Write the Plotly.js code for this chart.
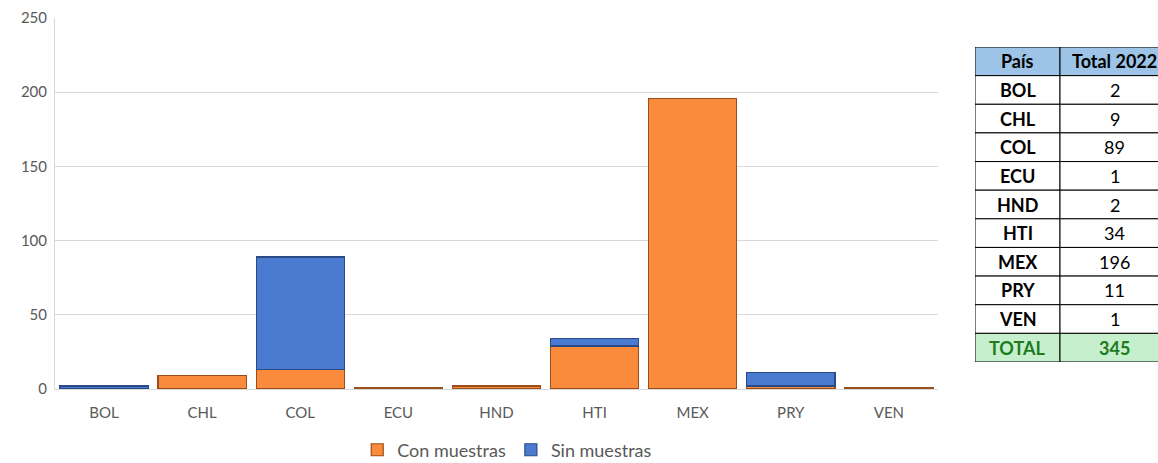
<!DOCTYPE html>
<html><head><meta charset="utf-8">
<script src="https://cdn.plot.ly/plotly-3.0.1.min.js"></script>
<style>html,body{margin:0;padding:0;background:#fff}#chart{width:1158px;height:463px}</style>
</head><body><div id="chart"></div>
<script>
const countries = ["BOL","CHL","COL","ECU","HND","HTI","MEX","PRY","VEN"];
const conMuestras = [0, 9, 13, 1, 2, 29, 196, 2, 1];
const sinMuestras = [2, 0, 76, 0, 0, 5, 0, 9, 0];
const tableCountries = ["BOL","CHL","COL","ECU","HND","HTI","MEX","PRY","VEN","TOTAL"];
const tableTotals = ["2","9","89","1","2","34","196","11","1","345"];
const tableHeader = ["País","Total 2022"];

const fontFam = "Lato, 'Open Sans', 'Liberation Sans', sans-serif";
const noZero = a => a.map(v => v === 0 ? null : v);

const traces = [
  {type:"bar", name:"Con muestras", x:countries, y:noZero(conMuestras),
   marker:{color:"#FA8A3C", line:{color:"#9A4E1C", width:1.2}}},
  {type:"bar", name:"Sin muestras", x:countries, y:noZero(sinMuestras),
   marker:{color:"#4A7BD0", line:{color:"#2A4A86", width:1.2}}}
];

// table drawn on a hidden axis pair: columns 0..1 and 1..colEnd, rows 0..11 (reversed)
const colEnd = 2.29;
const rows = [tableHeader].concat(tableCountries.map((c,i)=>[c, tableTotals[i]]));
const shapes = [], annotations = [];
rows.forEach((r, i) => {
  const isHead = i === 0, isTotal = i === rows.length - 1;
  const fill = isHead ? "#9DC3E6" : (isTotal ? "#C6EFCE" : "#FFFFFF");
  const color = isTotal ? "#1E7B1E" : "#000000";
  [[0,1],[1,colEnd]].forEach(([a,b], j) => {
    shapes.push({type:"rect", xref:"x2", yref:"y2", x0:a, x1:b, y0:i, y1:i+1,
      fillcolor:fill, line:{color:"#000", width:1}, layer:"above"});
    const bold = isHead || isTotal || j === 0;
    annotations.push({xref:"x2", yref:"y2", x:(a+b)/2, y:i+0.5, showarrow:false,
      text: bold ? "<b>"+r[j]+"</b>" : r[j], xanchor:"center", yanchor:"middle",
      font:{family:fontFam, size:18, color:color}});
  });
});

const layout = {
  width:1158, height:463,
  margin:{l:55, r:0, t:18, b:74, autoexpand:false},
  paper_bgcolor:"#fff", plot_bgcolor:"#fff",
  barmode:"stack", bargap:0.1,
  font:{family:fontFam, color:"#595959"},
  xaxis:{domain:[0,0.8005], showline:true, linecolor:"#D9D9D9", linewidth:1,
    tickfont:{size:15, color:"#595959"}, ticks:"", ticklabelstandoff:10, fixedrange:true},
  yaxis:{range:[0,250], dtick:50, showgrid:true, gridcolor:"#D9D9D9", gridwidth:1,
    showline:true, linecolor:"#D9D9D9", zeroline:false,
    tickfont:{size:15, color:"#595959"}, ticks:"", ticklabelstandoff:4},
  xaxis2:{domain:[0.8341,1], range:[0, 183/85], visible:false, anchor:"y2", fixedrange:true},
  yaxis2:{domain:[0.0728,0.9218], range:[11,0], visible:false, anchor:"x2", fixedrange:true},
  shapes:shapes, annotations:annotations,
  showlegend:true,
  legend:{orientation:"h", x:0.41, xanchor:"center", yref:"container", y:0.028, yanchor:"middle",
    font:{size:18, color:"#595959"}, traceorder:"normal"},
};
Plotly.newPlot("chart", traces, layout, {displayModeBar:false, staticPlot:true});
</script></body></html>
